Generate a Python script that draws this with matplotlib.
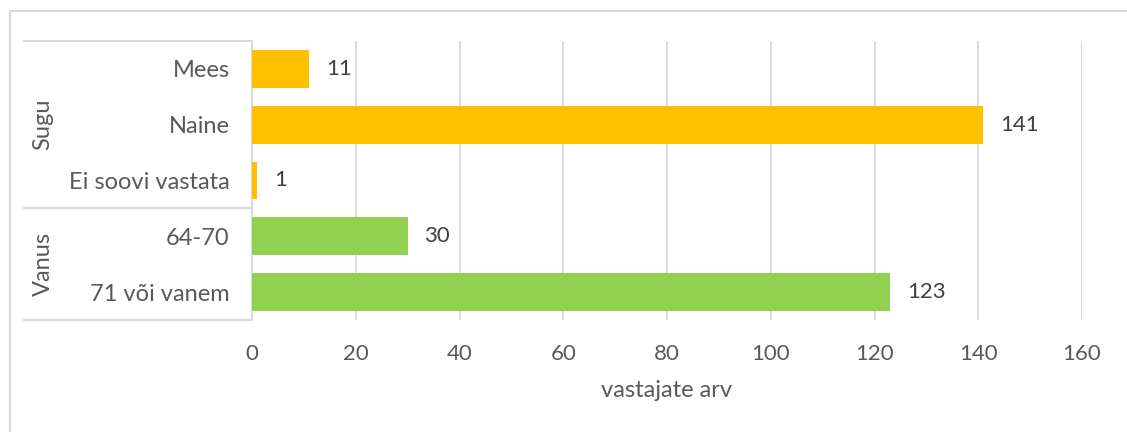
"""Respondents by gender and age group: horizontal bars with grouped category axis."""
import matplotlib
matplotlib.use('Agg')
import matplotlib.pyplot as plt
from matplotlib.lines import Line2D
from matplotlib.patches import Rectangle
from matplotlib.transforms import blended_transform_factory

plt.rcParams['font.family'] = ['Lato', 'DejaVu Sans']

categories = ['Mees', 'Naine', 'Ei soovi vastata', '64-70', '71 või vanem']
values = [11, 141, 1, 30, 123]
groups = ['Sugu', 'Sugu', 'Sugu', 'Vanus', 'Vanus']
group_colors = {'Sugu': '#FFC000', 'Vanus': '#92D050'}
xticks = [0, 20, 40, 60, 80, 100, 120, 140, 160]
xlabel = 'vastajate arv'

W, H = 1127, 432
fig = plt.figure(figsize=(W / 100, H / 100), dpi=100)
ax = fig.add_axes([252 / W, (H - 320) / H, (1082 - 252) / W, (320 - 41) / H])

# outer chart frame (Excel style, cut off at right/bottom)
fig.add_artist(Rectangle((10 / W, -0.1), 1.2, (H - 11) / H + 0.1,
                         transform=fig.transFigure, fill=False,
                         edgecolor='#D9D9D9', linewidth=1.5))

ypos = list(range(len(categories)))
ax.barh(ypos, values, height=0.68, color=[group_colors[g] for g in groups], zorder=3)
for y, v in zip(ypos, values):
    ax.annotate(str(v), (v, y), xytext=(12, 0), textcoords='offset points',
                va='center', ha='left', fontsize=16, color='#404040')

ax.set_xlim(0, 160)
ax.set_ylim(len(categories) - 0.5, -0.5)
ax.set_xticks(xticks)
ax.set_xticklabels([str(t) for t in xticks])
ax.xaxis.grid(True, color='#D9D9D9', linewidth=1.3, zorder=0)
ax.tick_params(axis='x', length=0, pad=17, labelsize=16, labelcolor='#595959')
ax.set_yticks(ypos)
ax.set_yticklabels(categories)
ax.tick_params(axis='y', length=0, pad=16, labelsize=17, labelcolor='#595959')
ax.set_xlabel(xlabel, fontsize=17, color='#595959', labelpad=12)
for s in ['top', 'right', 'bottom']:
    ax.spines[s].set_visible(False)
ax.spines['left'].set_color('#D9D9D9')
ax.spines['left'].set_linewidth(1.5)

# grouped category axis lines and group labels
tr = blended_transform_factory(fig.transFigure, ax.transData)
x0, x1 = 24 / W, 252 / W
for yb in [-0.5, 2.5, 4.5]:
    fig.add_artist(Line2D([x0, x1], [yb, yb], transform=tr, color='#D9D9D9', linewidth=1.5))
for name, (a, b) in {'Sugu': (-0.5, 2.5), 'Vanus': (2.5, 4.5)}.items():
    ax.text(43 / W, (a + b) / 2, name, transform=tr, rotation=90,
            ha='center', va='center', fontsize=17, color='#595959')

fig.savefig('out.png', dpi=100)
